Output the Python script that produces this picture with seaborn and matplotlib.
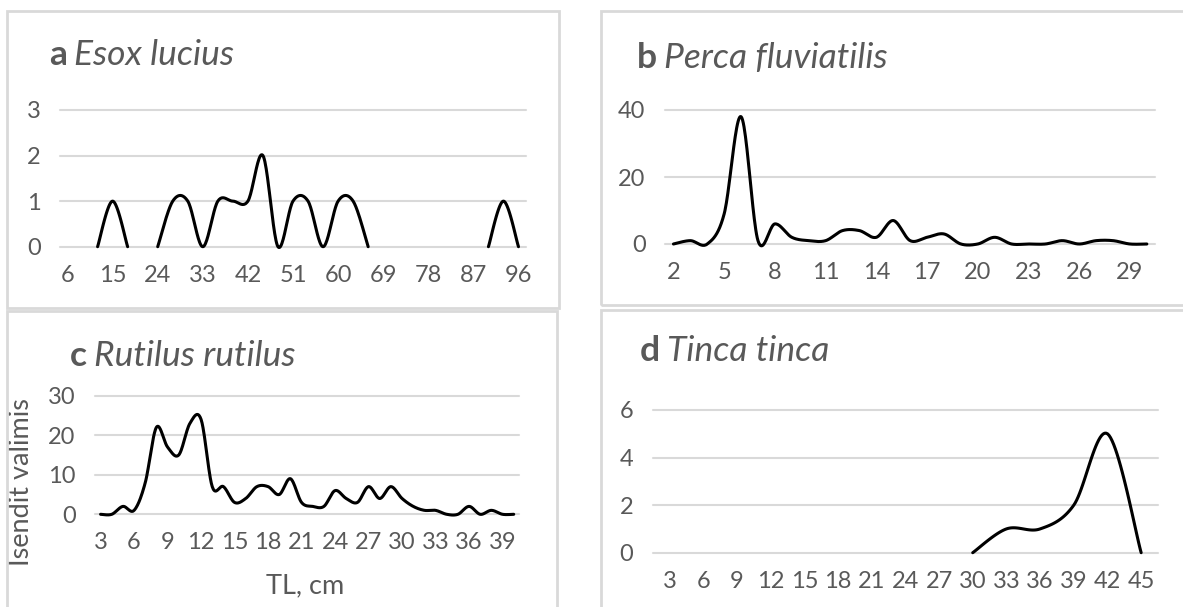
import numpy as np
import pandas as pd
import matplotlib
matplotlib.use("Agg")
import matplotlib.pyplot as plt
import seaborn as sns
from matplotlib.patches import Rectangle

# values (NaN = no fish in that length class)
nan = np.nan

esox_len = list(range(6, 97, 3))
esox_n = [nan, nan, 0, 1, 0, nan, 0, 1, 1, 0, 1, 1, 1, 2, 0, 1, 1, 0, 1, 1, 0,
          nan, nan, nan, nan, nan, nan, nan, 0, 1, 0]

perca_len = list(range(2, 31))
perca_n = [0, 1, 0, 9, 38, 1, 6, 2, 1, 1, 4, 4, 2, 7, 1, 2, 3, 0, 0, 2, 0, 0, 0,
           1, 0, 1, 1, 0, 0]

rutilus_len = list(range(3, 41))
rutilus_n = [0, 0, 2, 1, 8, 22, 17, 15, 23, 24, 7, 7, 3, 4, 7, 7, 5, 9, 3, 2, 2,
             6, 4, 3, 7, 4, 7, 4, 2, 1, 1, 0, 0, 2, 0, 1, 0, 0]

tinca_len = list(range(3, 46, 3))
tinca_n = [nan] * 9 + [0, 1, 1, 2, 5, 0]

W, H = 1183, 607
GREY = "#595959"
GRID = "#D9D9D9"


def smooth_df(values, steps=24):
    # Excel-style smoothed line: Catmull-Rom bezier through each run of points
    v = np.asarray(values, dtype=float)
    rows = []
    run = 0
    i = 0
    while i < len(v):
        if np.isnan(v[i]):
            i += 1
            continue
        j = i
        while j + 1 < len(v) and not np.isnan(v[j + 1]):
            j += 1
        xs = np.arange(i, j + 1, dtype=float)
        ys = v[i:j + 1]
        pts = np.column_stack([xs, ys])
        t = np.linspace(0, 1, steps)
        for k in range(len(pts) - 1):
            p0 = pts[k - 1] if k > 0 else pts[k]
            p1, p2 = pts[k], pts[k + 1]
            p3 = pts[k + 2] if k + 2 < len(pts) else pts[k + 1]
            c1 = p1 + (p2 - p0) / 6
            c2 = p2 - (p3 - p1) / 6
            seg = ((1 - t) ** 3)[:, None] * p1 + (3 * (1 - t) ** 2 * t)[:, None] * c1 \
                + (3 * (1 - t) * t ** 2)[:, None] * c2 + (t ** 3)[:, None] * p2
            for x, y in seg:
                rows.append((x, y, run))
        run += 1
        i = j + 1
    return pd.DataFrame(rows, columns=["x", "y", "run"])


def px_rect(x0, y0, x1, y1):
    return [x0 / W, 1 - y1 / H, (x1 - x0) / W, (y1 - y0) / H]


def panel(fig, box, rect, lengths, counts, ymax, ystep, xstep, letter, name, title_xy):
    fig.add_artist(Rectangle((box[0] / W, 1 - box[3] / H), (box[2] - box[0]) / W,
                             (box[3] - box[1]) / H, transform=fig.transFigure,
                             fill=False, ec=GRID, lw=2))
    ax = fig.add_axes(px_rect(*rect))
    df = smooth_df(counts)
    sns.lineplot(data=df, x="x", y="y", units="run", estimator=None, sort=False,
                 color="black", lw=2.2, ax=ax, legend=False)
    for ln in ax.get_lines():
        ln.set_clip_on(False)
    n = len(lengths)
    ax.set_xlim(-0.5, n - 0.5)
    ax.set_ylim(0, ymax)
    ax.set_yticks(np.arange(0, ymax + 0.1, ystep))
    ax.set_xticks(range(0, n, xstep))
    ax.set_xticklabels([str(v) for v in lengths[::xstep]])
    ax.set_xlabel("")
    ax.set_ylabel("")
    ax.yaxis.grid(True, color=GRID, lw=1.5)
    ax.xaxis.grid(False)
    for gl in ax.get_ygridlines():
        gl.set_clip_on(False)
    ax.set_axisbelow(True)
    for s in ax.spines.values():
        s.set_visible(False)
    ax.tick_params(axis="x", length=0, pad=13, labelsize=17, labelcolor=GREY)
    ax.tick_params(axis="y", length=0, pad=14, labelsize=17, labelcolor=GREY)

    t = fig.text(title_xy[0] / W, 1 - title_xy[1] / H, letter, fontsize=25.5,
                 fontweight="bold", color=GREY, va="baseline", ha="left")
    ax.annotate(name, xy=(1, 0), xycoords=t, xytext=(5, 0), textcoords="offset points",
                fontsize=25.5, fontstyle="italic", color=GREY, va="bottom", ha="left",
                annotation_clip=False)
    return ax


sns.set_theme(style="white")
plt.rcParams["font.family"] = ["Lato", "DejaVu Sans"]

fig = plt.figure(figsize=(W / 100, H / 100), dpi=100)

panel(fig, (7, 11, 559, 308), (60, 110, 526, 246.7), esox_len, esox_n,
      3, 1, 3, "a", "Esox lucius", (49, 65))
panel(fig, (601, 11, 1195, 305), (665, 110, 1155.3, 244), perca_len, perca_n,
      40, 20, 3, "b", "Perca fluviatilis", (637, 68))
axc = panel(fig, (7, 311, 557, 615), (95, 395.7, 519.3, 514.3), rutilus_len, rutilus_n,
            30, 10, 3, "c", "Rutilus rutilus", (70, 366))
panel(fig, (601, 310, 1195, 615), (652.7, 410, 1158, 552.7), tinca_len, tinca_n,
      6, 2, 1, "d", "Tinca tinca", (640, 361))

axc.set_ylabel("Isendit valimis", fontsize=19.5, color=GREY)
axc.yaxis.set_label_coords((34 - 95) / (519.3 - 95), (514.3 - 482) / (514.3 - 395.7))
axc.set_xlabel("TL, cm", fontsize=19.5, color=GREY)
axc.xaxis.set_label_coords((305 - 95) / (519.3 - 95), -(573 - 514.3) / (514.3 - 395.7))

fig.savefig("out.png", dpi=100, facecolor="white")
